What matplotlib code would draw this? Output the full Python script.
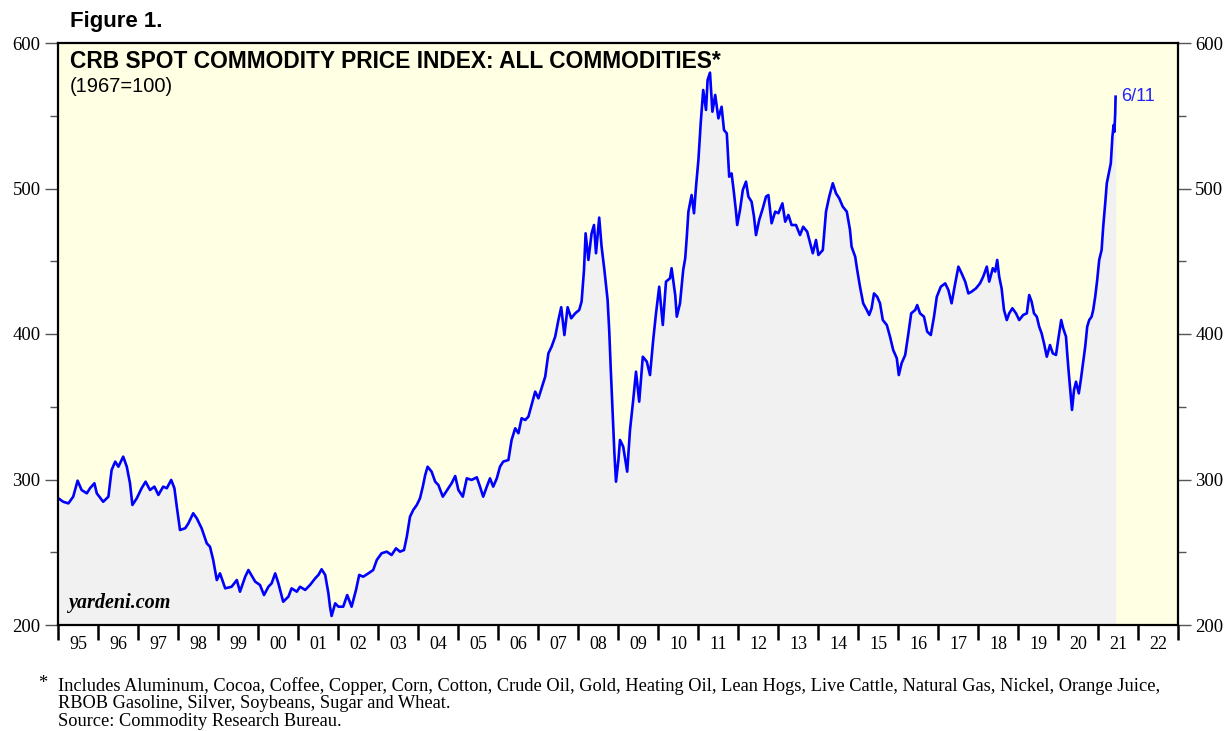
import matplotlib
matplotlib.use("Agg")
import matplotlib.pyplot as plt
import numpy as np

# ---------------- data (decimal year, index value) ----------------
dates = [
1995.01,1995.13,1995.26,1995.38,1995.49,1995.59,1995.72,1995.80,1995.91,1995.97,
1996.13,1996.26,1996.34,1996.43,1996.51,1996.63,1996.72,1996.80,1996.86,1996.97,
1997.09,1997.19,1997.30,1997.41,1997.51,1997.63,1997.72,1997.83,1997.91,1997.97,
1998.05,1998.18,1998.26,1998.38,1998.47,1998.59,1998.72,1998.80,1998.88,1998.97,
1999.05,1999.18,1999.34,1999.47,1999.55,1999.68,1999.76,1999.93,
2000.05,2000.15,2000.26,2000.34,2000.43,2000.51,2000.63,2000.76,2000.84,2000.97,
2001.05,2001.18,2001.30,2001.43,2001.51,2001.59,2001.68,2001.76,2001.80,2001.84,2001.93,
2002.01,2002.13,2002.23,2002.34,2002.45,2002.53,2002.63,2002.76,2002.88,2002.97,
2003.09,2003.22,2003.34,2003.45,2003.55,2003.65,2003.72,2003.80,2003.88,2003.97,
2004.05,2004.12,2004.18,2004.24,2004.34,2004.43,2004.51,2004.62,2004.84,2004.93,
2005.01,2005.12,2005.22,2005.34,2005.47,2005.55,2005.63,2005.72,2005.80,2005.88,2005.97,
2006.05,2006.13,2006.26,2006.34,2006.43,2006.51,2006.59,2006.68,2006.76,2006.84,2006.93,
2007.01,2007.09,2007.18,2007.26,2007.34,2007.43,2007.51,2007.58,2007.66,2007.74,2007.83,2007.93,
2008.03,2008.09,2008.15,2008.19,2008.26,2008.34,2008.40,2008.45,2008.53,2008.59,2008.66,
2008.74,2008.78,2008.82,2008.87,2008.91,2008.95,
2009.01,2009.05,2009.13,2009.23,2009.30,2009.38,2009.45,2009.53,2009.62,2009.72,2009.80,2009.88,2009.95,
2010.03,2010.12,2010.20,2010.30,2010.34,2010.43,2010.47,2010.55,2010.63,2010.68,2010.72,2010.76,
2010.80,2010.84,2010.90,2010.95,
2011.01,2011.07,2011.13,2011.20,2011.24,2011.30,2011.36,2011.43,2011.51,2011.59,2011.65,2011.72,
2011.78,2011.84,2011.90,2011.95,2011.98,
2012.05,2012.12,2012.20,2012.26,2012.34,2012.40,2012.45,2012.53,2012.62,2012.70,2012.76,2012.84,2012.93,
2013.01,2013.11,2013.18,2013.26,2013.34,2013.45,2013.55,2013.63,2013.73,2013.87,2013.95,
2014.01,2014.12,2014.20,2014.28,2014.37,2014.45,2014.53,2014.62,2014.72,2014.80,2014.84,2014.93,2014.98,
2015.05,2015.13,2015.22,2015.28,2015.34,2015.40,2015.48,2015.55,2015.62,2015.72,2015.80,2015.88,2015.97,
2016.02,2016.09,2016.18,2016.26,2016.33,2016.43,2016.48,2016.55,2016.65,2016.73,2016.82,2016.90,2016.97,
2017.07,2017.18,2017.26,2017.34,2017.43,2017.51,2017.59,2017.68,2017.76,2017.84,2017.95,
2018.05,2018.13,2018.22,2018.28,2018.37,2018.43,2018.48,2018.53,2018.59,2018.65,2018.72,2018.78,
2018.86,2018.95,
2019.03,2019.13,2019.22,2019.28,2019.34,2019.40,2019.47,2019.53,2019.59,2019.65,2019.72,2019.80,
2019.87,2019.95,
2020.01,2020.08,2020.13,2020.20,2020.23,2020.27,2020.32,2020.35,2020.40,2020.45,2020.52,2020.57,
2020.62,2020.68,2020.73,2020.78,2020.84,2020.88,2020.93,2020.98,
2021.03,2021.09,2021.13,2021.18,2021.22,2021.27,2021.32,2021.36,2021.39,2021.41,2021.43,2021.44,
]
values = [
287.1,284.7,283.6,288.2,299.2,292.8,290.5,294.0,297.4,290.5,
284.7,288.2,306.5,312.3,308.8,315.7,308.8,297.4,282.5,287.1,
294.0,298.5,292.8,295.1,289.4,295.1,294.0,299.7,294.0,281.3,
265.3,266.5,269.9,276.8,273.3,266.5,256.1,253.8,244.7,230.9,
235.5,225.2,226.3,230.9,222.9,233.2,237.8,229.8,
227.5,220.6,226.3,228.6,235.5,228.6,216.0,219.5,225.2,222.9,
226.3,224.1,227.5,232.1,234.4,238.3,234.4,221.8,212.6,206.2,214.9,
212.6,212.6,220.6,212.6,224.1,234.4,233.2,235.5,237.8,244.7,
249.3,250.4,248.1,252.7,250.4,251.5,260.7,274.4,279.0,282.5,
287.1,295.1,303.1,308.8,305.4,298.5,296.2,288.2,297.4,302.4,
292.8,288.2,300.8,299.7,301.5,295.1,288.2,295.1,300.8,295.1,300.8,
308.8,312.3,313.4,327.2,335.2,331.8,342.1,340.9,343.2,351.2,360.4,
355.8,362.7,370.7,386.7,391.3,398.2,409.6,418.4,399.3,418.4,410.8,414.2,
416.5,422.3,444.0,469.2,450.9,469.2,474.9,455.5,480.0,460.0,444.0,
423.4,402.7,375.3,343.2,318.0,298.5,
313.4,327.2,322.6,305.4,334.0,354.6,374.1,353.5,384.4,381.0,371.8,395.9,414.2,
432.5,406.2,436.0,438.3,445.2,426.8,411.9,421.1,444.0,452.0,466.9,484.1,
489.8,495.5,483.0,501.2,
519.6,545.9,567.7,554.0,574.6,579.6,552.8,564.3,548.2,556.2,540.2,537.9,
508.1,510.4,496.7,484.1,474.9,
485.2,499.0,504.7,494.4,490.9,480.6,468.0,478.4,486.4,494.4,495.5,476.1,484.1,
483.0,489.8,477.2,481.8,474.9,474.9,468.0,473.7,470.3,455.5,464.6,
454.3,457.7,484.1,494.4,503.6,496.7,493.3,487.5,484.1,471.5,460.0,453.1,444.0,
432.5,421.1,416.5,413.1,417.7,427.9,425.6,421.1,409.6,406.2,398.2,389.0,383.3,
371.8,379.9,385.6,400.5,414.2,416.5,419.9,414.2,411.9,401.6,399.3,411.9,425.6,
432.5,434.8,430.2,421.1,434.8,446.3,441.7,436.0,427.9,429.1,431.4,
434.8,439.4,446.3,436.0,445.2,442.9,450.9,439.4,431.4,416.5,409.6,414.2,
417.7,414.2,
409.6,413.1,414.2,426.8,422.3,414.2,411.9,405.0,400.5,393.6,384.4,392.4,
386.7,385.6,
397.0,409.6,403.9,398.2,386.7,373.0,356.9,347.8,361.5,367.2,359.2,368.4,
378.7,391.3,405.0,409.6,411.9,416.5,425.6,437.1,
450.9,457.7,473.7,489.8,503.6,510.4,517.3,535.6,543.6,539.0,551.7,563.1,
]

year_ticks = list(range(1995, 2024))
year_labels = ["95","96","97","98","99","00","01","02","03","04","05","06","07",
               "08","09","10","11","12","13","14","15","16","17","18","19","20",
               "21","22"]
y_major = [200, 300, 400, 500, 600]
y_minor = [250, 350, 450, 550]

title = "CRB SPOT COMMODITY PRICE INDEX: ALL COMMODITIES*"
subtitle = "(1967=100)"
last_label = "6/11"
foot_lines = [
    "Includes Aluminum, Cocoa, Coffee, Copper, Corn, Cotton, Crude Oil, Gold, Heating Oil, Lean Hogs, Live Cattle, Natural Gas, Nickel, Orange Juice,",
    "RBOB Gasoline, Silver, Soybeans, Sugar and Wheat.",
    "Source: Commodity Research Bureau.",
]

# ---------------- figure ----------------
W, H = 1229, 731
fig = plt.figure(figsize=(W / 100, H / 100), dpi=100)
fig.patch.set_facecolor("white")

def fx(px):
    return px / W

def fy(py):
    return 1 - py / H

L, R, T, B = 58, 1178, 43, 625
ax = fig.add_axes([fx(L), fy(B), fx(R) - fx(L), fy(T) - fy(B)])
ax.set_facecolor("#FFFFE4")

x = np.array(dates)
y = np.array(values)
ax.fill_between(x, 200, y, color="#F1F1F1", lw=0, zorder=1)
ax.plot(x, y, color="#0000FF", lw=1.9, zorder=3, solid_joinstyle="round")

ax.set_xlim(1995, 2023)
ax.set_ylim(200, 600)

serif = ["Liberation Serif", "DejaVu Serif"]
sans = ["Liberation Sans", "DejaVu Sans"]

# x ticks: major at year boundaries, labels at mid-year
ax.set_xticks(year_ticks)
ax.set_xticklabels([])
ax.set_xticks([yr + 0.5 for yr in year_ticks[:-1]], minor=True)
ax.set_xticklabels(year_labels, minor=True, fontfamily=serif, fontsize=13)
ax.tick_params(axis="x", which="major", direction="out", length=10.5, width=1.8,
               color="black", top=False)
ax.tick_params(axis="x", which="minor", length=0, pad=8, top=False)

# y ticks on both sides
ax.set_yticks(y_major)
ax.set_yticks(y_minor, minor=True)
ax.set_yticklabels([str(v) for v in y_major], fontfamily=serif, fontsize=13.5)
ax.tick_params(axis="y", which="major", direction="out", length=9.5, width=1.0,
               color="#555555", left=True, right=True, labelleft=True,
               labelright=True, pad=3)
ax.tick_params(axis="y", which="minor", direction="out", length=5.5, width=1.0,
               color="#555555", left=True, right=True)

for s in ax.spines.values():
    s.set_linewidth(1.6)
    s.set_color("black")
    s.set_zorder(5)

# texts
fig.text(fx(70), fy(21), "Figure 1.", fontfamily=sans, fontweight="bold",
         fontsize=16, va="center", ha="left")
fig.text(fx(70), fy(61), title, fontfamily=sans, fontweight="bold",
         fontsize=16.4, va="center", ha="left")
fig.text(fx(70), fy(87), subtitle, fontfamily=sans, fontsize=14.5,
         va="center", ha="left")
ax.text(0.009, 0.02, "yardeni.com", transform=ax.transAxes,
        fontfamily=serif, fontweight="bold", fontstyle="italic", fontsize=14.5,
        ha="left", va="bottom", zorder=4)
ax.annotate(last_label, xy=(x[-1], y[-1]), xytext=(4, 0),
            textcoords="offset points", color="#2020FF", fontfamily=sans,
            fontsize=13, ha="left", va="center", zorder=4)

fig.text(fx(38), fy(684), "*", fontfamily=serif, fontsize=13.2,
         va="center", ha="left")
for i, line in enumerate(foot_lines):
    fig.text(fx(58), fy(686 + 17.5 * i), line, fontfamily=serif, fontsize=13.2,
             va="center", ha="left")

fig.savefig("out.png", dpi=100)
